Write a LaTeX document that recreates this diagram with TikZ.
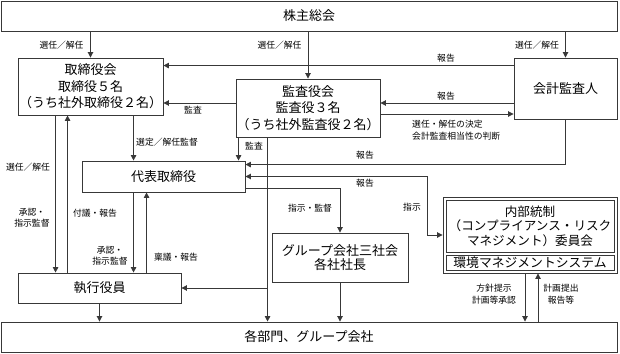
\documentclass[tikz,border=0pt]{standalone}
\usepackage{fontspec}
\setmainfont{Noto Sans CJK JP}
\usetikzlibrary{arrows.meta}
\definecolor{lc}{gray}{0.22}
\tikzset{
  box/.style={draw=lc, line width=0.9pt, fill=white, inner sep=0pt, align=center,
    font=\fontsize{13}{16.5}\selectfont},
  lab/.style={inner sep=0pt, align=center, font=\fontsize{8.8}{11.5}\selectfont},
  arr/.style={draw=lc, line width=0.9pt, -{Triangle[length=5.5pt,width=5.5pt]}},
  arrb/.style={draw=lc, line width=0.9pt, {Triangle[length=5.5pt,width=5.5pt]}-{Triangle[length=5.5pt,width=5.5pt]}},
}
\begin{document}
\begin{tikzpicture}[x=1pt,y=-1pt]
\useasboundingbox (0,0) rectangle (620,353);
% nodes
\node[box, minimum width=616pt, minimum height=30pt] (shu) at (309,16) {株主総会};
\node[box, minimum width=145pt, minimum height=57pt] (tori) at (90.5,86.5) {取締役会\\取締役５名\\（うち社外取締役２名）};
\node[box, minimum width=144pt, minimum height=58pt] (kansa) at (308,108) {監査役会\\監査役３名\\（うち社外監査役２名）};
\node[box, minimum width=103pt, minimum height=61pt] (kaikei) at (565.5,88.5) {会計監査人};
\node[box, minimum width=163pt, minimum height=31pt] (dai) at (163.5,176.5) {代表取締役};
\node[box, minimum width=163pt, minimum height=30pt] (shikko) at (99.5,288) {執行役員};
\node[box, minimum width=136pt, minimum height=49pt, font=\fontsize{13}{14}\selectfont] (group) at (340,257.5) {グループ会社三社会\\各社社長};
\node[box, minimum width=174pt, minimum height=76pt] (nai) at (530,235) {};
\node[box, minimum width=168pt, minimum height=52pt, font=\fontsize{12.6}{14.5}\selectfont] (nai1) at (530,226) {内部統制\\（コンプライアンス・リスク\\マネジメント）委員会};
\node[box, minimum width=168pt, minimum height=15pt, font=\fontsize{12.8}{14}\selectfont] (nai2) at (530,262.5) {環境マネジメントシステム};
\node[box, minimum width=616pt, minimum height=30pt] (kakubu) at (309,337) {各部門、グループ会社};

% connectors
\draw[arr] (shu.south -| tori.north) -- (tori.north);
\draw[arr] (shu.south -| kansa.north) -- (kansa.north);
\draw[arr] (shu.south -| kaikei.north) -- (kaikei.north);

\coordinate (c4) at ([yshift=-8pt]kaikei.north west);
\draw[arr] (c4) -- (c4 -| tori.east);

\coordinate (c5) at ([yshift=5pt]kansa.west);
\draw[arr] (c5) -- (c5 -| tori.east);
\draw[arr] (c5 -| kaikei.west) -- (c5 -| kansa.east);
\coordinate (c7) at ([yshift=-6pt]kansa.east);
\draw[arr] (c7) -- (c7 -| kaikei.west);

\coordinate (c8) at ([yshift=-4pt]dai.north east);
\draw[arr] (kaikei.south) |- (c8);

\coordinate (c9) at ([xshift=52pt]dai.north west);
\draw[arr] (c9 |- tori.south) -- (c9);
\coordinate (c10) at ([xshift=3pt]kansa.south west);
\draw[arr] (c10) -- (c10 |- dai.north);
\coordinate (c11) at ([xshift=32pt]kansa.south west);
\draw[arr] (c11) -- (c11 |- kakubu.north);
\draw[arr] (c11 |- shikko.east) -- (shikko.east);

\coordinate (c12) at ([xshift=-15pt]nai.west);
\draw[arrb] (nai.west) -- (c12) |- (dai.east);

\coordinate (c13) at ([yshift=4pt]dai.south east);
\draw[arr] (c13) -| (group.north);
\draw[arr] (group.south) -- (group.south |- kakubu.north);

\coordinate (c15a) at ([xshift=38pt]tori.south west);
\coordinate (c15b) at ([xshift=50pt]tori.south west);
\draw[arr] (c15a) -- (c15a |- shikko.north);
\draw[arr] (c15b |- shikko.north) -- (c15b);

\coordinate (c16a) at ([xshift=52pt]dai.south west);
\coordinate (c16b) at ([xshift=65pt]dai.south west);
\draw[arr] (c16a) -- (c16a |- shikko.north);
\draw[arr] (c16b |- shikko.north) -- (c16b);

\draw[arr] (shikko.south) -- (shikko.south |- kakubu.north);

\coordinate (c18a) at ([xshift=-5pt]nai.south);
\coordinate (c18b) at ([xshift=8pt]nai.south);
\draw[arr] (c18a) -- (c18a |- kakubu.north);
\draw[arr] (c18b |- kakubu.north) -- (c18b);

% labels
\node[lab] (l1) at (61.5,45) {選任／解任};
\node[lab] (l2) at (279.5,45) {選任／解任};
\node[lab] (l3) at (537,45) {選任／解任};
\node[lab] (l4) at (446,58) {報告};
\node[lab] (l5) at (193,110) {監査};
\node[lab] (l6) at (446,96) {報告};
\node[lab, anchor=west, align=left] (l7) at (412,130) {選任・解任の決定\\会計監査相当性の判断};
\node[lab] (l8) at (365,155) {報告};
\node[lab, anchor=west] (l9) at (136,142) {選定／解任監督};
\node[lab] (l10) at (254,146) {監査};
\node[lab] (l11) at (365,183) {報告};
\node[lab] (l12) at (412,207) {指示};
\node[lab] (l13) at (310,208) {指示・監督};
\node[lab] (l14) at (28,167) {選任／解任};
\node[lab] (l15) at (32,218) {承認・\\指示監督};
\node[lab] (l16) at (95,213) {付議・報告};
\node[lab] (l17) at (110,256) {承認・\\指示監督};
\node[lab] (l18) at (176,257) {稟議・報告};
\node[lab] (l19) at (494,294) {方針提示\\計画等承認};
\node[lab] (l20) at (561,294) {計画提出\\報告等};
\end{tikzpicture}
\end{document}
